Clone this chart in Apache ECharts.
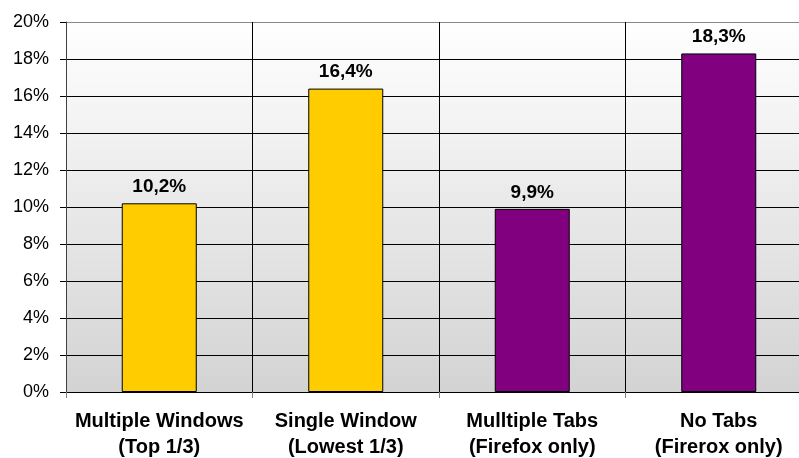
<!DOCTYPE html>
<html><head><meta charset="utf-8">
<script src="https://cdn.jsdelivr.net/npm/echarts@6/dist/echarts.min.js"></script>
<style>html,body{margin:0;padding:0;background:#fff;overflow:hidden;width:799px;height:458px}#c{width:812px;height:458px}</style>
</head><body><div id="c"></div>
<script>
const categories = ["Multiple Windows\n(Top 1/3)", "Single Window\n(Lowest 1/3)", "Mulltiple Tabs\n(Firefox only)", "No Tabs\n(Firerox only)"];
const values = [10.2, 16.4, 9.9, 18.3];
const barColors = ["#FFCC00", "#FFCC00", "#800080", "#800080"];
const yTicks = [0, 2, 4, 6, 8, 10, 12, 14, 16, 18, 20];

const chart = echarts.init(document.getElementById('c'), null, {renderer: 'canvas'});
const font = 'Liberation Sans, Arial, sans-serif';
const splitColors = yTicks.map((t, i) => i === yTicks.length - 1 ? '#888888' : '#000000');
chart.setOption({
  animation: false,
  grid: {
    left: 66, right: 0, top: 22, bottom: 66,
    outerBoundsMode: 'none', containLabel: false,
    show: true, borderWidth: 0,
    backgroundColor: {type: 'linear', x: 0, y: 0, x2: 0, y2: 1,
      colorStops: [{offset: 0, color: '#ffffff'}, {offset: 1, color: '#d3d3d3'}]}
  },
  xAxis: {
    type: 'category', data: categories,
    axisLine: {show: true, lineStyle: {color: '#000', width: 1}},
    axisTick: {show: true, interval: 0, length: 6, lineStyle: {color: '#808080'}},
    splitLine: {show: true, interval: 0, lineStyle: {color: '#000', width: 1}},
    axisLabel: {interval: 0, hideOverlap: false, color: '#000', fontFamily: font, fontWeight: 'bold', fontSize: 20, lineHeight: 26, margin: 16}
  },
  yAxis: {
    type: 'value', min: yTicks[0], max: yTicks[yTicks.length - 1], interval: 2,
    axisLine: {show: true, lineStyle: {color: '#404040', width: 1}},
    axisTick: {show: true, length: 6, lineStyle: {color: '#000'}},
    splitLine: {show: true, lineStyle: {color: splitColors, width: 1}},
    axisLabel: {color: '#000', fontFamily: font, fontSize: 18, margin: 17, formatter: v => v + '%'}
  },
  series: [{
    type: 'bar', barWidth: 75,
    data: values.map((v, i) => ({value: v, itemStyle: {color: barColors[i]}})),
    itemStyle: {borderColor: '#000', borderWidth: 1},
    label: {show: true, position: 'top', distance: 7, color: '#000', fontFamily: font, fontWeight: 'bold', fontSize: 19,
      formatter: p => p.value.toFixed(1).replace('.', ',') + '%'}
  }]
});
</script></body></html>
